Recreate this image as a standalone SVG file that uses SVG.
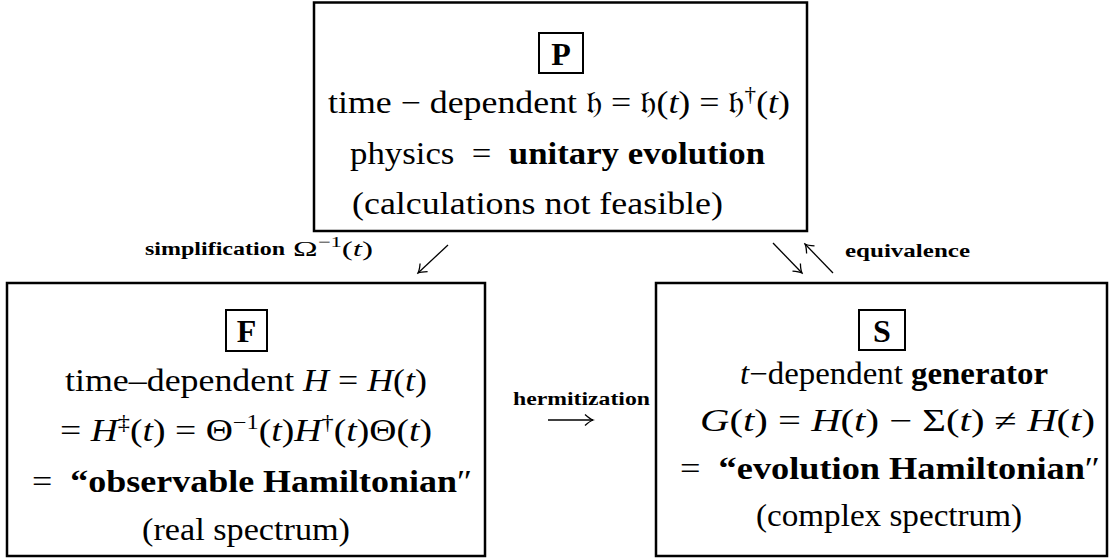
<svg xmlns="http://www.w3.org/2000/svg" width="1109" height="560" viewBox="0 0 1109 560">
<style>
text{font-family:"Liberation Serif","DejaVu Serif",serif;fill:#000}
.t{font-size:31px}
.lbl{font-size:32px;font-weight:bold}
.sm{font-size:19px}
.b{font-weight:bold}
.it{font-style:italic}
.fr{font-family:"DejaVu Serif","DejaVu Sans","Noto Sans",serif}
.box{fill:#fff;stroke:#000;stroke-width:2.5}
.tag{fill:none;stroke:#000;stroke-width:2}
.arr{fill:none;stroke:#000;stroke-width:1.3}
</style>
<defs>
<marker id="ah" viewBox="-10 -7 12 14" markerWidth="12" markerHeight="14" refX="0" refY="0" orient="auto" markerUnits="userSpaceOnUse">
<path d="M-8,-5.5 Q-3,-1 0,0 Q-3,1 -8,5.5" fill="none" stroke="#000" stroke-width="1.3"/>
</marker>
</defs>
<rect width="1109" height="560" fill="#fff"/>
<g id="nodeP">
<rect class="box" x="314" y="2.5" width="493" height="228.5"/>
<rect class="tag" x="539" y="33" width="44" height="40"/>
<text class="lbl" x="561" y="65" text-anchor="middle">P</text>
<text class="t" x="328" y="113" textLength="462" lengthAdjust="spacingAndGlyphs">time − dependent <tspan class="fr">𝔥</tspan> = <tspan class="fr">𝔥</tspan>(<tspan class="it">t</tspan>) = <tspan class="fr">𝔥</tspan><tspan dy="-12" font-size="20">†</tspan><tspan dy="12">(</tspan><tspan class="it">t</tspan>)</text>
<text class="t" x="350" y="164" textLength="415" lengthAdjust="spacingAndGlyphs">physics&#160; =&#160; <tspan class="b">unitary evolution</tspan></text>
<text class="t" x="352" y="214" textLength="371" lengthAdjust="spacingAndGlyphs">(calculations not feasible)</text>
</g>
<g id="nodeF">
<rect class="box" x="7" y="283" width="478" height="273"/>
<rect class="tag" x="226" y="310" width="41" height="41"/>
<text class="lbl" x="246.5" y="342" text-anchor="middle">F</text>
<text class="t" x="65" y="391" textLength="362" lengthAdjust="spacingAndGlyphs">time–dependent <tspan class="it">H</tspan> = <tspan class="it">H</tspan>(<tspan class="it">t</tspan>)</text>
<text class="t" x="60" y="441" textLength="372" lengthAdjust="spacingAndGlyphs">= <tspan class="it">H</tspan><tspan dy="-12" font-size="20">‡</tspan><tspan dy="12">(</tspan><tspan class="it">t</tspan>) = Θ<tspan dy="-12" font-size="20">−1</tspan><tspan dy="12">(</tspan><tspan class="it">t</tspan>)<tspan class="it">H</tspan><tspan dy="-12" font-size="20">†</tspan><tspan dy="12">(</tspan><tspan class="it">t</tspan>)Θ(<tspan class="it">t</tspan>)</text>
<text class="t" x="32" y="492" textLength="440" lengthAdjust="spacingAndGlyphs">=&#160; <tspan class="b">“observable Hamiltonian</tspan>″</text>
<text class="t" x="142" y="540" textLength="208" lengthAdjust="spacingAndGlyphs">(real spectrum)</text>
</g>
<g id="nodeS">
<rect class="box" x="656" y="283" width="451" height="273"/>
<rect class="tag" x="859" y="310" width="46" height="40"/>
<text class="lbl" x="882" y="342" text-anchor="middle">S</text>
<text class="t" x="740" y="384" textLength="308" lengthAdjust="spacingAndGlyphs"><tspan class="it">t</tspan>−dependent <tspan class="b">generator</tspan></text>
<text class="t" x="700" y="431" textLength="395" lengthAdjust="spacingAndGlyphs"><tspan class="it">G</tspan>(<tspan class="it">t</tspan>) = <tspan class="it">H</tspan>(<tspan class="it">t</tspan>) − Σ(<tspan class="it">t</tspan>) ≠ <tspan class="it">H</tspan>(<tspan class="it">t</tspan>)</text>
<text class="t" x="680" y="479" textLength="420" lengthAdjust="spacingAndGlyphs">=&#160; <tspan class="b">“evolution Hamiltonian</tspan>″</text>
<text class="t" x="756" y="526" textLength="266" lengthAdjust="spacingAndGlyphs">(complex spectrum)</text>
</g>
<g id="connectors">
<path class="arr" d="M448,245 L418,273" marker-end="url(#ah)"/>
<path class="arr" d="M773,243 L802,273" marker-end="url(#ah)"/>
<path class="arr" d="M833,273 L805,244" marker-end="url(#ah)"/>
<path class="arr" d="M548,420 L593,420" marker-end="url(#ah)"/>
<text class="sm b" x="145" y="255" textLength="140" lengthAdjust="spacingAndGlyphs">simplification</text>
<text x="293" y="256" font-size="22" textLength="80" lengthAdjust="spacingAndGlyphs">Ω<tspan dy="-9" font-size="15">−1</tspan><tspan dy="9">(</tspan><tspan class="it">t</tspan>)</text>
<text class="sm b" x="845" y="257" textLength="125" lengthAdjust="spacingAndGlyphs">equivalence</text>
<text class="sm b" x="513" y="405" textLength="137" lengthAdjust="spacingAndGlyphs">hermitization</text>
</g>
</svg>
